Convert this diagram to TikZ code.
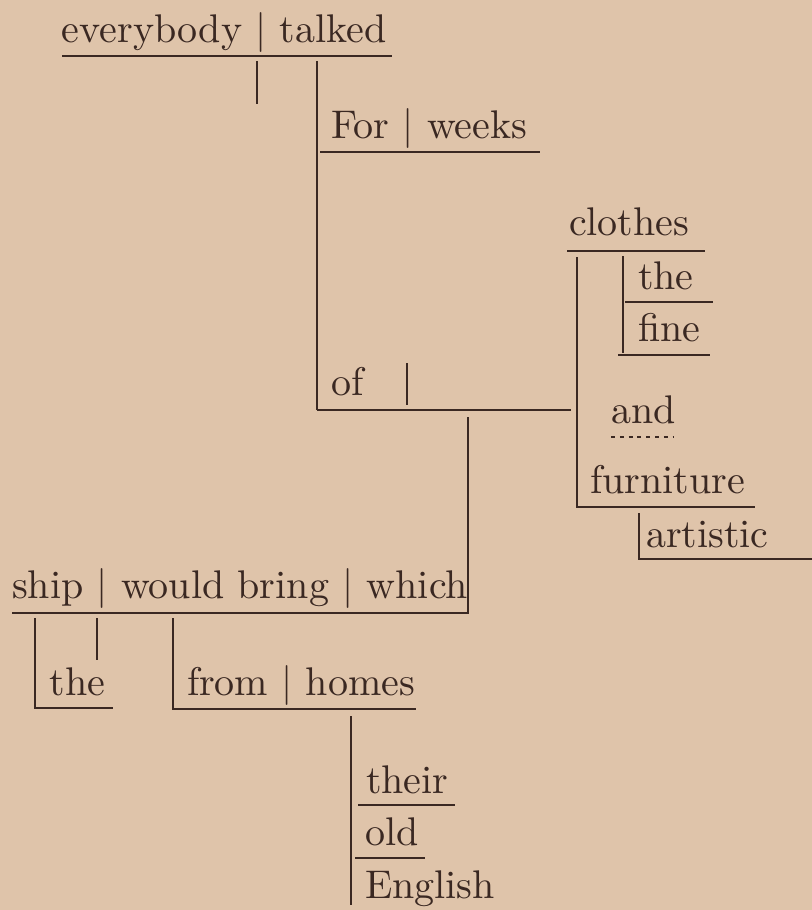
\documentclass[tikz,border=0pt]{standalone}
\begin{document}
\begin{tikzpicture}[x=0.25pt,y=-0.25pt,
  ink/.style={draw=inkc,line width=0.45pt},
  word/.style={anchor=base west,inner sep=0pt,outer sep=0pt,text=inkc,font=\fontsize{10}{12}\selectfont}]
\definecolor{bgc}{RGB}{223,196,170}
\definecolor{inkc}{RGB}{58,40,34}
\fill[bgc] (0,0) rectangle (812,910);
\useasboundingbox (0,0) rectangle (812,910);
% main clause
\node[word] (ev) at (62,42) {everybody $|$ talked};
\coordinate (mL) at (62,56); \coordinate (mR) at (392,56);
\draw[ink] (mL) -- (mR);
\coordinate (d1a) at (257,61); \coordinate (d1b) at (257,104);
\draw[ink] (d1a) -- (d1b);
\coordinate (vT) at (317,61); \coordinate (vB) at (317,410);
\draw[ink] (vT) -- (vB);
% For weeks
\node[word] (for) at (331,138) {For $|$ weeks};
\coordinate (fL) at (320,152); \coordinate (fR) at (540,152);
\draw[ink] (fL) -- (fR);
% of
\node[word] (of) at (331,395) {of};
\coordinate (ofa) at (407,363); \coordinate (ofb) at (407,405);
\draw[ink] (ofa) -- (ofb);
\coordinate (oR) at (571,410);
\draw[ink] (vB) -- (oR);
% clothes
\node[word] (clo) at (569,235) {clothes};
\coordinate (cL) at (567,251); \coordinate (cR) at (705,251);
\draw[ink] (cL) -- (cR);
\coordinate (cvT) at (577,257); \coordinate (cvB) at (577,507); \coordinate (fuR) at (755,507);
\draw[ink] (cvT) -- (cvB) -- (fuR);
\coordinate (avT) at (623,256); \coordinate (avB) at (623,353);
\draw[ink] (avT) -- (avB);
\node[word] (the1) at (638,289) {the};
\coordinate (t1L) at (625,302); \coordinate (t1R) at (713,302);
\draw[ink] (t1L) -- (t1R);
\node[word] (fine) at (638,341) {fine};
\coordinate (f1L) at (618,355); \coordinate (f1R) at (710,355);
\draw[ink] (f1L) -- (f1R);
\node[word] (and) at (611,423) {and};
\coordinate (anL) at (611,437); \coordinate (anR) at (674,437);
\draw[ink,dash pattern=on 1pt off 1.2pt] (anL) -- (anR);
\node[word] (fur) at (590,493) {furniture};
\coordinate (arT) at (639,513); \coordinate (arB) at (639,559); \coordinate (arR) at (812,559);
\draw[ink] (arT) -- (arB) -- (arR);
\node[word] (art) at (646,547) {artistic};
% relative clause
\coordinate (wT) at (468,417); \coordinate (wB) at (468,613); \coordinate (sL) at (12,613);
\draw[ink] (wT) -- (wB) -- (sL);
\node[word] (ship) at (12,598) {ship $|$ would bring $|$ which};
\coordinate (s1T) at (35,618); \coordinate (s1B) at (35,708); \coordinate (s1R) at (113,708);
\draw[ink] (s1T) -- (s1B) -- (s1R);
\node[word] (the2) at (50,695) {the};
\coordinate (d2a) at (97,618); \coordinate (d2b) at (97,660);
\draw[ink] (d2a) -- (d2b);
\coordinate (frT) at (173,618); \coordinate (frB) at (173,709); \coordinate (frR) at (416,709);
\draw[ink] (frT) -- (frB) -- (frR);
\node[word] (from) at (187,695) {from $|$ homes};
\coordinate (hT) at (351,716); \coordinate (hB) at (351,905);
\draw[ink] (hT) -- (hB);
\node[word] (their) at (366,793) {their};
\coordinate (thL) at (358,805); \coordinate (thR) at (455,805);
\draw[ink] (thL) -- (thR);
\node[word] (old) at (365,845) {old};
\coordinate (olL) at (355,858); \coordinate (olR) at (425,858);
\draw[ink] (olL) -- (olR);
\node[word] (eng) at (365,898) {English};
\end{tikzpicture}
\end{document}
